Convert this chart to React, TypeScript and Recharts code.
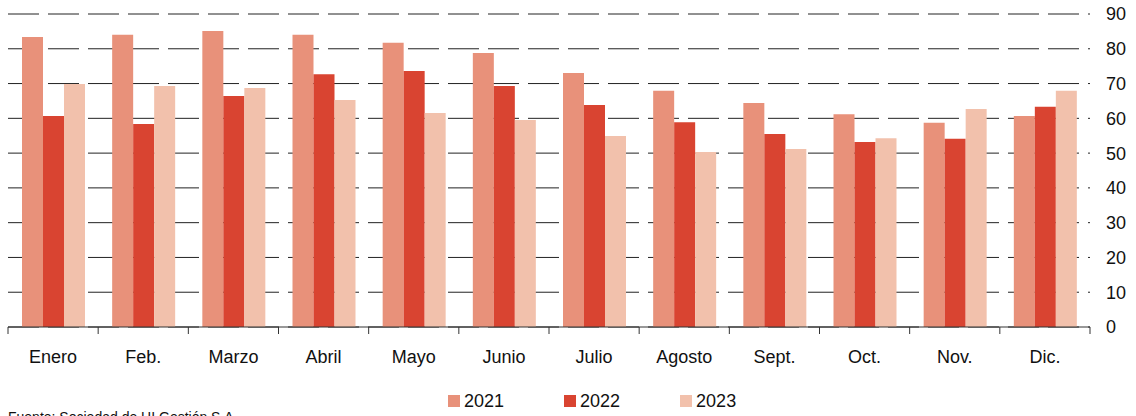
import React from 'react';
import { BarChart, Bar, XAxis, YAxis, CartesianGrid } from 'recharts';

const months = ['Enero', 'Feb.', 'Marzo', 'Abril', 'Mayo', 'Junio', 'Julio', 'Agosto', 'Sept.', 'Oct.', 'Nov.', 'Dic.'];
const v2021 = [83.4, 84.0, 85.1, 84.0, 81.7, 78.8, 73.0, 67.9, 64.4, 61.2, 58.7, 60.7];
const v2022 = [60.7, 58.4, 66.4, 72.7, 73.6, 69.3, 63.8, 58.9, 55.5, 53.2, 54.1, 63.3];
const v2023 = [69.9, 69.3, 68.7, 65.3, 61.5, 59.5, 54.9, 50.3, 51.2, 54.3, 62.7, 67.9];
const yTicks = [0, 10, 20, 30, 40, 50, 60, 70, 80, 90];

const series = [
  { key: 'y2021', name: '2021', color: '#E8917A' },
  { key: 'y2022', name: '2022', color: '#D94431' },
  { key: 'y2023', name: '2023', color: '#F2C1AC' },
];

const data = months.map((m, i) => ({ month: m, y2021: v2021[i], y2022: v2022[i], y2023: v2023[i] }));

const FONT = '"Liberation Sans", Arial, sans-serif';

// month label plus a tick mark on the left edge of each band (and the right edge of the last)
const MonthTick = (props: any) => {
  const { x, y, payload, index, visibleTicksCount } = props;
  const half = payload.offset || 0;
  const isLast = index === visibleTicksCount - 1;
  return (
    <g>
      <line x1={x - half} x2={x - half} y1={y} y2={y + 7} stroke="#333" />
      {isLast && <line x1={x + half} x2={x + half} y1={y} y2={y + 7} stroke="#333" />}
      <text x={x} y={y + 36} textAnchor="middle" fill="#111" fontSize={18} fontFamily={FONT}>
        {payload.value}
      </text>
    </g>
  );
};

export default function App() {
  return (
    <div style={{ position: 'absolute', left: 0, top: 0, width: 1136, height: 416, overflow: 'hidden', background: '#fff', fontFamily: FONT }}>
      <BarChart
        width={1136}
        height={385}
        data={data}
        margin={{ top: 14, right: 0, left: 8, bottom: 0 }}
        barCategoryGap={14}
        barGap={0}
      >
        <CartesianGrid vertical={false} stroke="#222" strokeDasharray="31 9" />
        <XAxis
          dataKey="month"
          height={58}
          axisLine={{ stroke: '#333' }}
          tickLine={false}
          tickSize={0}
          tickMargin={0}
          interval={0}
          tick={<MonthTick />}
        />
        <YAxis
          orientation="right"
          domain={[0, 90]}
          ticks={yTicks}
          width={46}
          axisLine={false}
          tickLine={false}
          tickSize={0}
          tickMargin={16}
          tick={{ fill: '#111', fontSize: 18, fontFamily: FONT, textAnchor: 'start' }}
        />
        {series.map(s => (
          <Bar key={s.key} dataKey={s.key} name={s.name} fill={s.color} isAnimationActive={false} />
        ))}
      </BarChart>

      {/* Legend */}
      <div style={{ position: 'absolute', left: 448, top: 390, display: 'flex', gap: 60 }}>
        {series.map(s => (
          <div key={s.key} style={{ display: 'flex', alignItems: 'center', gap: 4 }}>
            <div style={{ width: 12, height: 12, background: s.color }} />
            <span style={{ fontSize: 18, color: '#111', lineHeight: '22px' }}>{s.name}</span>
          </div>
        ))}
      </div>

      {/* Source */}
      <div style={{ position: 'absolute', left: 8, top: 409, fontSize: 14, color: '#111', whiteSpace: 'nowrap' }}>
        Fuente: Sociedad de HI Gestión S.A.
      </div>
    </div>
  );
}
